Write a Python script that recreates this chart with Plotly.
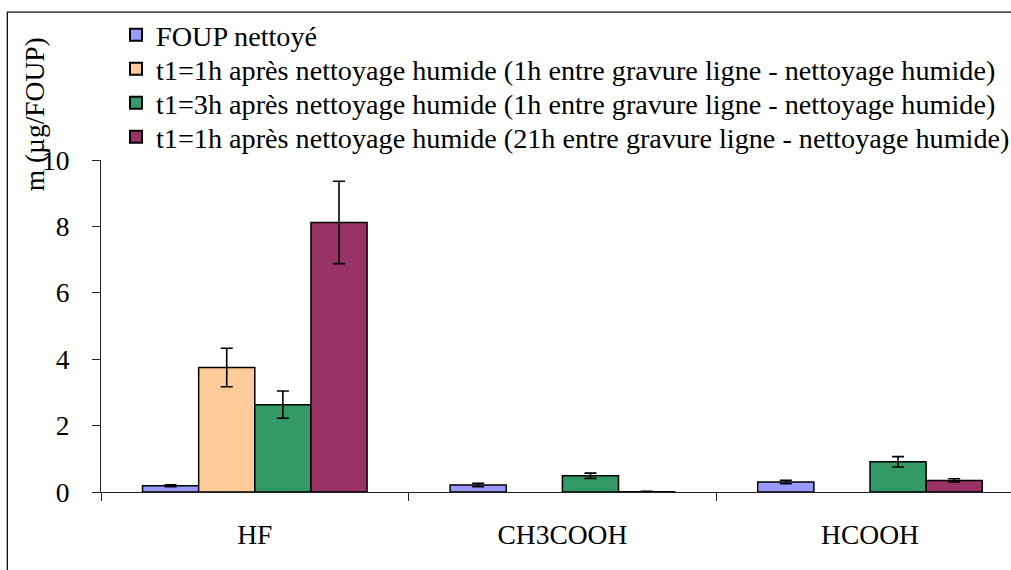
import plotly.graph_objects as go

categories = ["HF", "CH3COOH", "HCOOH"]
series_names = [
    "FOUP nettoyé",
    "t1=1h après nettoyage humide (1h entre gravure ligne - nettoyage humide)",
    "t1=3h après nettoyage humide (1h entre gravure ligne - nettoyage humide)",
    "t1=1h après nettoyage humide (21h entre gravure ligne - nettoyage humide)",
]
foup_values = [0.19, 0.21, 0.30]
foup_errors = [0.03, 0.05, 0.05]
t1_1h_values = [3.75, None, None]
t1_1h_errors = [0.58, None, None]
t1_3h_values = [2.63, 0.49, 0.91]
t1_3h_errors = [0.41, 0.08, 0.155]
t1_1h_21h_values = [8.12, 0.01, 0.35]
t1_1h_21h_errors = [1.24, 0.01, 0.05]
y_ticks = [0, 2, 4, 6, 8, 10]

colors = ["#9999FF", "#FFCC99", "#339966", "#993366"]
values = [foup_values, t1_1h_values, t1_3h_values, t1_1h_21h_values]
errors = [foup_errors, t1_1h_errors, t1_3h_errors, t1_1h_21h_errors]

FONT = "Liberation Serif, Times New Roman, serif"
FS = 27.5
LEG_FS = 28.2

W, H = 1011, 570
L, T, B = 100.7, 160.0, 570 - 492.3
pw = W - L
ph = H - T - B

legend_ids = ["legend", "legend2", "legend3", "legend4"]
row_centers = [36, 70, 104, 138]

fig = go.Figure()
for name, col, vals, errs, lid in zip(series_names, colors, values, errors, legend_ids):
    fig.add_trace(go.Bar(
        x=categories, y=vals, name=name, legend=lid,
        marker=dict(color=col, line=dict(color="#000000", width=1.5)),
        error_y=dict(type="data", array=[e if e is not None else 0 for e in errs],
                     visible=True, color="#000000", thickness=1.6, width=6),
    ))


def px_to_paper_x(px):
    return (px - L) / pw


def px_to_paper_y(py):
    return (H - B - py) / ph


legend_layouts = {}
for lid, c in zip(legend_ids, row_centers):
    legend_layouts[lid] = dict(
        xref="container", yref="container",
        x=116 / W, y=1 - (c - 26) / H, xanchor="left", yanchor="top",
        bgcolor="rgba(0,0,0,0)", font=dict(family=FONT, size=LEG_FS, color="#000000"),
        itemsizing="constant",
    )

fig.update_layout(
    width=W, height=H,
    margin=dict(l=L, r=0, t=T, b=B, pad=0, autoexpand=False),
    paper_bgcolor="white", plot_bgcolor="white",
    barmode="group", bargap=0.27, bargroupgap=0,
    font=dict(family=FONT, size=FS, color="#000000"),
    showlegend=True,
    xaxis=dict(
        type="category", range=[-0.5, -0.5 + pw / 307.7],
        showline=True, linecolor="#222222", linewidth=1.2,
        ticks="outside", tickson="boundaries", ticklen=8, tickcolor="#222222", tickwidth=1.2,
        showgrid=False, zeroline=False, ticklabelstandoff=18,
        tickfont=dict(family=FONT, size=FS),
    ),
    yaxis=dict(
        range=[0, 10], tickvals=y_ticks,
        showline=True, linecolor="#222222", linewidth=1.2,
        ticks="outside", ticklen=8, tickcolor="#222222", tickwidth=1.2,
        showgrid=False, zeroline=False, ticklabelstandoff=17,
        tickfont=dict(family=FONT, size=FS),
    ),
    annotations=[dict(
        text="m (µg/FOUP)", textangle=-90, showarrow=False,
        xref="paper", yref="paper",
        x=px_to_paper_x(34), y=px_to_paper_y(114),
        xanchor="center", yanchor="middle",
        font=dict(family=FONT, size=FS),
    )],
    shapes=[dict(
        type="rect", xref="paper", yref="paper",
        x0=px_to_paper_x(7), x1=px_to_paper_x(1100),
        y0=px_to_paper_y(700), y1=px_to_paper_y(12),
        line=dict(color="#111111", width=1.3), fillcolor="rgba(0,0,0,0)",
        layer="below",
    )],
    **legend_layouts,
)

post = ("document.body.style.margin='0';"
        "document.body.style.overflow='hidden';"
        "document.documentElement.style.overflow='hidden';")
fig.write_html("out.html", post_script=post, config={"displayModeBar": False})
